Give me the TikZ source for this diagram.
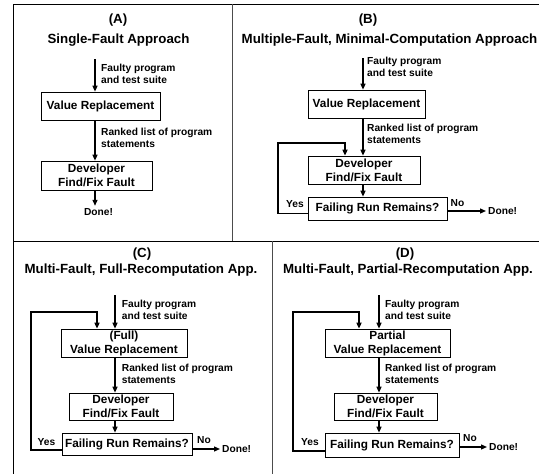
\documentclass[tikz,border=0pt]{standalone}
\usepackage{fontspec}
\setmainfont{Liberation Sans}
\usetikzlibrary{arrows.meta}

\newcommand{\boxfont}{\bfseries\fontsize{11.8}{14}\selectfont}
\newcommand{\notefont}{\bfseries\fontsize{10.2}{12}\selectfont}
\newcommand{\headfont}{\bfseries\fontsize{13.3}{16}\selectfont}

\tikzset{
	box/.style={draw, line width=0.7pt, inner sep=0pt, align=center, font=\boxfont},
	note/.style={inner sep=0pt, anchor=west, align=left, font=\notefont},
	head/.style={inner sep=0pt, anchor=base, font=\headfont},
	flow/.style={line width=1.3pt, -{Triangle[length=6pt,width=5pt]}},
	back/.style={line width=1.8pt, -{Triangle[length=6pt,width=5pt]}},
	frame/.style={line width=0.8pt},
}

\begin{document}
\begin{tikzpicture}[x=1pt,y=-1pt]
	\useasboundingbox (0,0) rectangle (539,474);
	% frame
	\draw[frame] (13,474) -- (13,4) -- (539,4);
	\draw[frame] (13,241) -- (539,241);
	\draw[frame, black!70] (232,4) -- (232,241);
	\draw[frame, black!70] (272,241) -- (272,474);
	
	% (A) single fault
	\node[head] (a-tag) at (118,23) {(A)};
	\node[head] (a-title) at (118.5,43.5) {Single-Fault Approach};
	\coordinate (a-in) at (95,59);
	\node[box, minimum width=119pt, minimum height=28pt] (a-vr) at (100.5,106) {Value Replacement};
	\node[box, minimum width=111pt, minimum height=29pt] (a-dev) at (96.5,175.5) {Developer\\Find/Fix Fault};
	\node[note] (a-n1) at (101,73.5) {Faulty program\\and test suite};
	\node[note] (a-n2) at (101,137.5) {Ranked list of program\\statements};
	\node[note, anchor=base] (a-done) at (98.5,215) {Done!};
	\draw[flow] (a-in) -- (a-in |- a-vr.north);
	\draw[flow] (a-in |- a-vr.south) -- (a-in |- a-dev.north);
	\draw[flow] (a-in |- a-dev.south) -- ([yshift=2pt]a-in |- a-done.north);
	
	% (B) minimal computation
	\node[head] (b-tag) at (368,23) {(B)};
	\node[head] (b-title) at (389.5,43.5) {Multiple-Fault, Minimal-Computation Approach};
	\coordinate (b-in) at (363,58);
	\node[box, minimum width=117pt, minimum height=28pt] (b-vr) at (366.5,104) {Value Replacement};
	\node[box, minimum width=112pt, minimum height=28pt] (b-dev) at (364,170) {Developer\\Find/Fix Fault};
	\node[box, minimum width=139pt, minimum height=23pt] (b-fail) at (377.5,208.5) {Failing Run Remains?};
	\node[note] (b-n1) at (367,67) {Faulty program\\and test suite};
	\node[note] (b-n2) at (367,133.5) {Ranked list of program\\statements};
	\node[note, anchor=base] (b-yes) at (295,207) {Yes};
	\node[note, anchor=base] (b-no) at (457.5,206) {No};
	\node[note, inner sep=2pt] (b-done) at (486,211) {Done!};
	\coordinate (b-turn) at (278,143);
	\coordinate (b-drop) at (345,143);
	\draw[flow] (b-in) -- (b-in |- b-vr.north);
	\draw[flow] (b-in |- b-vr.south) -- (b-in |- b-dev.north);
	\draw[flow] (b-in |- b-dev.south) -- (b-in |- b-fail.north);
	\draw[back] ([yshift=-5pt]b-fail.west) -| (b-turn) -- (b-drop) -- (b-drop |- b-dev.north);
	\draw[flow] (b-fail.east |- b-done.west) -- (b-done.west);
	
	% (C) full recomputation
	\node[head] (c-tag) at (142,257.5) {(C)};
	\node[head] (c-title) at (141,273.5) {Multi-Fault, Full-Recomputation App.};
	\coordinate (c-in) at (115,295);
	\node[box, minimum width=126pt, minimum height=28pt] (c-vr) at (124,343) {(Full)\\Value Replacement};
	\node[box, minimum width=104pt, minimum height=27pt] (c-dev) at (121,406.5) {Developer\\Find/Fix Fault};
	\node[box, minimum width=130pt, minimum height=22pt] (c-fail) at (127,444) {Failing Run Remains?};
	\node[note] (c-n1) at (121.7,309.5) {Faulty program\\and test suite};
	\node[note] (c-n2) at (121.7,373.5) {Ranked list of program\\statements};
	\node[note, anchor=base] (c-yes) at (46.5,445.5) {Yes};
	\node[note, anchor=base] (c-no) at (204,443) {No};
	\node[note, inner sep=2pt] (c-done) at (220,449) {Done!};
	\coordinate (c-turn) at (31,312);
	\coordinate (c-drop) at (97,312);
	\draw[flow] (c-in) -- (c-in |- c-vr.north);
	\draw[flow] (c-in |- c-vr.south) -- (c-in |- c-dev.north);
	\draw[flow] (c-in |- c-dev.south) -- (c-in |- c-fail.north);
	\draw[back] ([yshift=-6pt]c-fail.west) -| (c-turn) -- (c-drop) -- (c-drop |- c-vr.north);
	\draw[flow] (c-fail.east |- c-done.west) -- (c-done.west);
	
	% (D) partial recomputation
	\node[head] (d-tag) at (405,257.5) {(D)};
	\node[head] (d-title) at (408,273.5) {Multi-Fault, Partial-Recomputation App.};
	\coordinate (d-in) at (379,295);
	\node[box, minimum width=125pt, minimum height=28pt] (d-vr) at (387.5,343) {Partial\\Value Replacement};
	\node[box, minimum width=103pt, minimum height=27pt] (d-dev) at (385.5,406.5) {Developer\\Find/Fix Fault};
	\node[box, minimum width=134pt, minimum height=24pt] (d-fail) at (392,445) {Failing Run Remains?};
	\node[note] (d-n1) at (385,309.5) {Faulty program\\and test suite};
	\node[note] (d-n2) at (385,373.5) {Ranked list of program\\statements};
	\node[note, anchor=base] (d-yes) at (310,445.5) {Yes};
	\node[note, anchor=base] (d-no) at (470,441) {No};
	\node[note, inner sep=2pt] (d-done) at (487,447) {Done!};
	\coordinate (d-turn) at (293,312);
	\coordinate (d-drop) at (359,312);
	\draw[flow] (d-in) -- (d-in |- d-vr.north);
	\draw[flow] (d-in |- d-vr.south) -- (d-in |- d-dev.north);
	\draw[flow] (d-in |- d-dev.south) -- (d-in |- d-fail.north);
	\draw[back] ([yshift=-6pt]d-fail.west) -| (d-turn) -- (d-drop) -- (d-drop |- d-vr.north);
	\draw[flow] (d-fail.east |- d-done.west) -- (d-done.west);
\end{tikzpicture}
\end{document}
